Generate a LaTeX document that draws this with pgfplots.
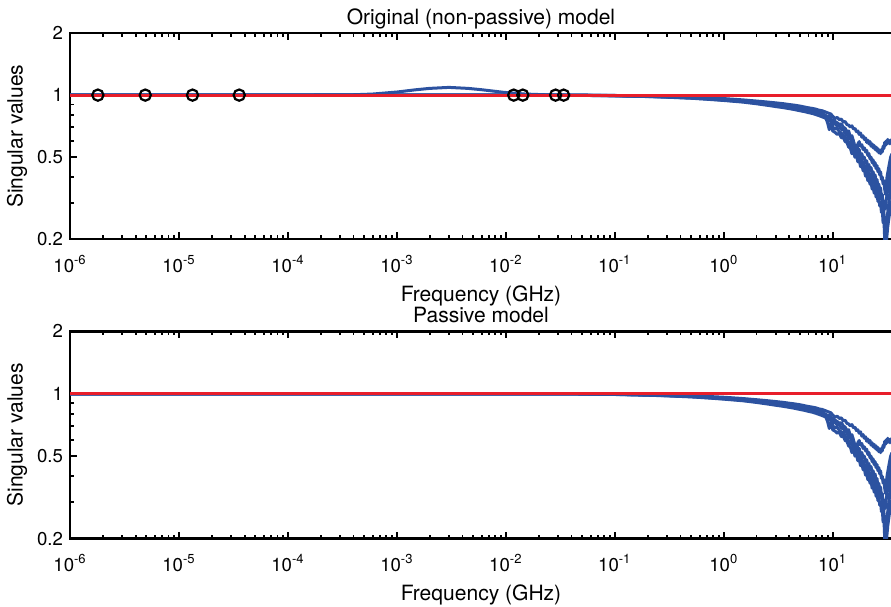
\documentclass[border=0pt]{standalone}
\usepackage{fontspec}
\setmainfont{TeX Gyre Heros}
\usepackage{pgfplots}
\usepackage{pgfplotstable}
\pgfplotsset{compat=1.18}
\definecolor{svblue}{RGB}{44,82,160}
\definecolor{svred}{RGB}{232,30,42}

\pgfplotstableread{
f s1 s2 s3 s4 s5
1e-6 1 1 1 1 1
1e-4 1 1 1 1 1
1e-3 1 1 1 1 1
0.01 1 1 1 1 1
0.03 1 0.999 0.999 0.999 0.999
0.05 0.999 0.998 0.998 0.997 0.997
0.1 0.996 0.995 0.994 0.993 0.992
0.2 0.990 0.988 0.987 0.985 0.984
0.3 0.986 0.983 0.981 0.979 0.977
0.5 0.978 0.974 0.971 0.968 0.966
0.7 0.971 0.966 0.962 0.958 0.955
1 0.962 0.956 0.951 0.946 0.942
1.5 0.948 0.941 0.935 0.930 0.925
2 0.936 0.928 0.920 0.914 0.908
2.5 0.926 0.917 0.907 0.900 0.893
3 0.917 0.906 0.895 0.888 0.880
3.5 0.909 0.897 0.887 0.876 0.870
4 0.900 0.888 0.878 0.866 0.860
4.5 0.893 0.880 0.868 0.858 0.850
5 0.885 0.872 0.860 0.850 0.840
5.5 0.876 0.863 0.852 0.842 0.832
6 0.868 0.855 0.845 0.835 0.822
6.5 0.862 0.848 0.838 0.826 0.815
7 0.855 0.840 0.828 0.815 0.805
7.5 0.845 0.835 0.820 0.810 0.795
8 0.840 0.820 0.810 0.800 0.785
8.5 0.830 0.795 0.800 0.790 0.775
9 0.820 0.730 0.785 0.775 0.760
9.3 0.815 0.680 0.790 0.765 0.750
9.6 0.810 0.720 0.775 0.760 0.745
10.0 0.790 0.760 0.720 0.700 0.670
10.5 0.770 0.745 0.730 0.685 0.660
11.0 0.780 0.735 0.705 0.690 0.645
11.5 0.760 0.720 0.710 0.665 0.655
12.0 0.765 0.725 0.680 0.655 0.620
12.5 0.740 0.700 0.685 0.640 0.625
13.0 0.745 0.690 0.650 0.630 0.595
13.5 0.720 0.665 0.655 0.600 0.590
14.0 0.715 0.670 0.615 0.595 0.560
14.5 0.700 0.630 0.620 0.570 0.555
15.0 0.710 0.635 0.585 0.575 0.520
15.5 0.685 0.600 0.595 0.545 0.535
16.0 0.690 0.550 0.560 0.550 0.500
16.5 0.665 0.500 0.570 0.520 0.510
17.0 0.670 0.580 0.535 0.525 0.475
17.5 0.645 0.595 0.545 0.490 0.485
18.0 0.655 0.565 0.510 0.500 0.450
18.5 0.625 0.575 0.520 0.470 0.460
19.0 0.635 0.545 0.490 0.475 0.430
19.5 0.610 0.555 0.500 0.445 0.435
20.0 0.620 0.530 0.470 0.455 0.405
20.5 0.590 0.540 0.480 0.425 0.415
21.0 0.605 0.510 0.450 0.435 0.385
21.5 0.580 0.520 0.460 0.405 0.395
22.0 0.595 0.490 0.430 0.415 0.370
22.5 0.565 0.500 0.445 0.390 0.380
23.0 0.580 0.470 0.410 0.400 0.350
23.5 0.555 0.485 0.425 0.375 0.365
24.0 0.570 0.455 0.390 0.385 0.335
24.5 0.545 0.470 0.410 0.360 0.350
25.0 0.560 0.440 0.375 0.370 0.320
25.5 0.535 0.455 0.390 0.345 0.335
26.0 0.550 0.425 0.355 0.355 0.305
26.5 0.525 0.440 0.370 0.330 0.320
27.0 0.540 0.410 0.340 0.340 0.290
27.5 0.520 0.425 0.355 0.315 0.300
28.0 0.545 0.390 0.320 0.325 0.270
28.5 0.530 0.400 0.330 0.300 0.280
29.0 0.565 0.370 0.290 0.310 0.240
29.5 0.550 0.385 0.270 0.285 0.250
30.0 0.590 0.350 0.230 0.300 0.200
30.5 0.570 0.330 0.190 0.280 0.170
31.0 0.600 0.370 0.210 0.310 0.190
31.5 0.580 0.400 0.240 0.330 0.210
32.0 0.610 0.420 0.270 0.350 0.230
32.5 0.585 0.440 0.290 0.370 0.245
33.0 0.600 0.460 0.310 0.390 0.260
33.5 0.580 0.480 0.340 0.420 0.270
34.0 0.605 0.500 0.360 0.440 0.290
34.5 0.585 0.510 0.380 0.460 0.300
35.0 0.600 0.520 0.400 0.480 0.310
}\svdata

\pgfplotstableread{
f s
1e-6 1
1e-4 1
3.8e-4 1.003
6e-4 1.012
1e-3 1.035
1.5e-3 1.062
2e-3 1.078
3e-3 1.090
4.5e-3 1.078
6e-3 1.062
9.5e-3 1.032
1.5e-2 1.012
2.4e-2 1.003
0.03 1.0
0.05 0.999
0.1 0.996
}\bumpdata

\tikzset{blueline/.style={svblue, line width=1.5pt, line join=round}}
\pgfplotsset{
  every tick/.style={black, line width=0.9pt},
  tick label style={font=\fontsize{9.3}{10}\selectfont},
  every x tick label/.append style={anchor=base, yshift=-16.5pt},
  every axis y label/.style={at={(axis description cs:0,0.5)}, xshift=-26.5pt, rotate=90, anchor=center, font=\fontsize{10.5}{12}\selectfont},
  every axis x label/.style={at={(axis description cs:0.5,0)}, yshift=-23pt, anchor=north, inner sep=0pt, font=\fontsize{10.5}{12}\selectfont},
  every axis title/.style={at={(axis description cs:0.5,1)}, anchor=base, yshift=4.5pt, inner sep=0pt, font=\fontsize{10.5}{12}\selectfont},
}

\begin{document}
\begin{tikzpicture}
\useasboundingbox (-35pt,-183.5pt) rectangle (410pt,119.5pt);
\begin{axis}[at={(0,0)}, anchor=south west, height=103pt,
    scale only axis, width=410.5pt,
    xmode=log, ymode=log,
    xmin=1e-6, xmax=35, ymin=0.2, ymax=2,
    xtick={1e-6,1e-5,1e-4,1e-3,1e-2,1e-1,1,10},
    xticklabels={10\textsuperscript{-6},10\textsuperscript{-5},10\textsuperscript{-4},10\textsuperscript{-3},10\textsuperscript{-2},10\textsuperscript{-1},10\textsuperscript{0},10\textsuperscript{1}},
    ytick={0.2,0.5,1,2}, yticklabels={0.2,0.5,1,2},
    minor ytick={0.3,0.4,0.6,0.7,0.8,0.9},
    ytick pos=left,
    tick align=inside,
    major tick length=3.5pt, minor tick length=2pt,
    axis line style={black, line width=1.2pt},
    xlabel={Frequency (GHz)}, ylabel={Singular values},
    title={Original (non-passive) model}]
  \addplot[blueline] table[x=f, y=s2] {\svdata};
  \addplot[blueline] table[x=f, y=s3] {\svdata};
  \addplot[blueline] table[x=f, y=s4] {\svdata};
  \addplot[blueline] table[x=f, y=s5] {\svdata};
  \addplot[blueline] table[x=f, y=s1] {\svdata};
  \addplot[blueline] table[x=f, y=s] {\bumpdata};
  \addplot[svred, line width=1.4pt] coordinates {(1e-6,1) (35,1)};
  \addplot[only marks, mark=o, mark size=2.8pt, black, mark options={line width=1.1pt}] coordinates {
    (1.8e-6,1) (4.9e-6,1) (1.33e-5,1) (3.57e-5,1)
    (1.18e-2,1) (1.43e-2,1) (2.86e-2,1) (3.39e-2,1)};
\end{axis}
\begin{axis}[at={(0,-149.5pt)}, anchor=south west, height=103.5pt,
    scale only axis, width=410.5pt,
    xmode=log, ymode=log,
    xmin=1e-6, xmax=35, ymin=0.2, ymax=2,
    xtick={1e-6,1e-5,1e-4,1e-3,1e-2,1e-1,1,10},
    xticklabels={10\textsuperscript{-6},10\textsuperscript{-5},10\textsuperscript{-4},10\textsuperscript{-3},10\textsuperscript{-2},10\textsuperscript{-1},10\textsuperscript{0},10\textsuperscript{1}},
    ytick={0.2,0.5,1,2}, yticklabels={0.2,0.5,1,2},
    minor ytick={0.3,0.4,0.6,0.7,0.8,0.9},
    ytick pos=left,
    tick align=inside,
    major tick length=3.5pt, minor tick length=2pt,
    axis line style={black, line width=1.2pt},
    xlabel={Frequency (GHz)}, ylabel={Singular values},
    title={Passive model}]
  \addplot[blueline] table[x=f, y=s2] {\svdata};
  \addplot[blueline] table[x=f, y=s3] {\svdata};
  \addplot[blueline] table[x=f, y=s4] {\svdata};
  \addplot[blueline] table[x=f, y=s5] {\svdata};
  \addplot[blueline] table[x=f, y=s1] {\svdata};
  \addplot[svred, line width=1.4pt] coordinates {(1e-6,1) (35,1)};
\end{axis}
\end{tikzpicture}
\end{document}
